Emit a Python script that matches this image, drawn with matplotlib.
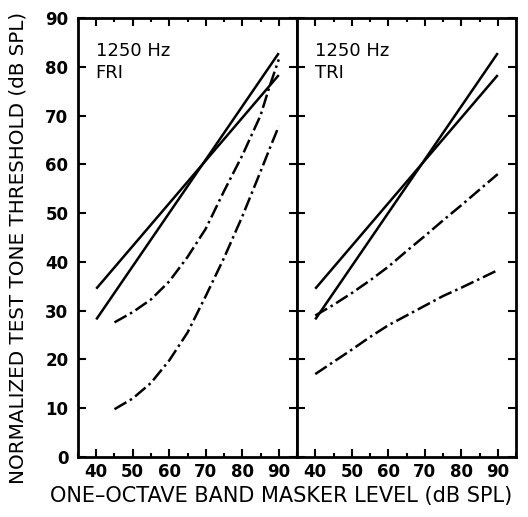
import numpy as np
import matplotlib
matplotlib.use("Agg")
import matplotlib.pyplot as plt
from matplotlib.ticker import MultipleLocator

plt.rcParams['font.family'] = ['DejaVu Sans']

# ---- data ----
x_solid = [40, 90]
solid_a = [34.5, 78.3]   # flatter solid
solid_b = [28.2, 82.8]   # steeper solid

fri_x = [45, 50, 55, 60, 65, 70, 75, 80, 85, 87.5, 90]
fri_upper = [27.6, 29.7, 32.3, 36.0, 41.0, 46.8, 54.5, 61.8, 70.0, 76.0, 81.5]
fri_lower = [9.8, 12.0, 15.2, 19.8, 25.5, 33.0, 40.8, 49.3, 58.5, 63.2, 67.8]

tri_x = [40, 45, 50, 55, 60, 65, 70, 75, 80, 85, 90]
tri_upper = [29.0, 31.2, 33.6, 36.2, 39.0, 42.2, 45.3, 48.5, 51.6, 54.8, 58.0]
tri_lower = [17.0, 19.5, 22.0, 24.6, 27.0, 29.0, 31.0, 33.0, 34.7, 36.5, 38.3]

panels = [
    ("1250 Hz\nFRI", fri_x, fri_upper, fri_lower),
    ("1250 Hz\nTRI", tri_x, tri_upper, tri_lower),
]

xticks = [40, 50, 60, 70, 80, 90]
yticks = [0, 10, 20, 30, 40, 50, 60, 70, 80, 90]

fig = plt.figure(figsize=(5.28, 5.17), dpi=100)
W, H = 528, 517
ax_l = fig.add_axes([78 / W, (H - 457) / H, 219 / W, 439 / H])
ax_r = fig.add_axes([297 / W, (H - 457) / H, 219 / W, 439 / H])

dash = (0, (5.5, 1.6, 1.0, 1.6))
lw = 1.8
for i, (ax, (label, dx, up, lo)) in enumerate(zip([ax_l, ax_r], panels)):
    ax.plot(x_solid, solid_a, color='black', lw=lw, solid_capstyle='butt')
    ax.plot(x_solid, solid_b, color='black', lw=lw, solid_capstyle='butt')
    ax.plot(dx, up, color='black', lw=lw, linestyle=dash)
    ax.plot(dx, lo, color='black', lw=lw, linestyle=dash)
    ax.set_xlim(35, 95)
    ax.set_ylim(0, 90)
    ax.set_xticks(xticks)
    ax.xaxis.set_minor_locator(MultipleLocator(5))
    ax.set_yticks(yticks)
    for s in ax.spines.values():
        s.set_linewidth(2.0)
    ax.tick_params(axis='both', which='major', direction='in', length=6, width=1.5,
                   top=True, right=True, labelsize=12)
    ax.tick_params(axis='x', which='major', pad=4)
    ax.tick_params(axis='both', which='minor', direction='in', length=3, width=1.5,
                   top=True, right=True)
    ax.text(0.08, 0.945, label, transform=ax.transAxes, ha='left', va='top',
            fontsize=13, linespacing=1.3)
    for t in ax.get_xticklabels() + ax.get_yticklabels():
        t.set_fontweight('bold')
    if i == 1:
        ax.tick_params(axis='y', labelleft=False)

ax_l.tick_params(axis='y', pad=7)
fig.text(281 / W, 11 / H, "ONE\u2013OCTAVE BAND MASKER LEVEL (dB SPL)", ha='center',
         va='bottom', fontsize=15)
fig.text(8 / W, (H - 248) / H, "NORMALIZED TEST TONE THRESHOLD (dB SPL)", ha='left',
         va='center', rotation=90, fontsize=14.3)

fig.savefig("out.png", dpi=100)
